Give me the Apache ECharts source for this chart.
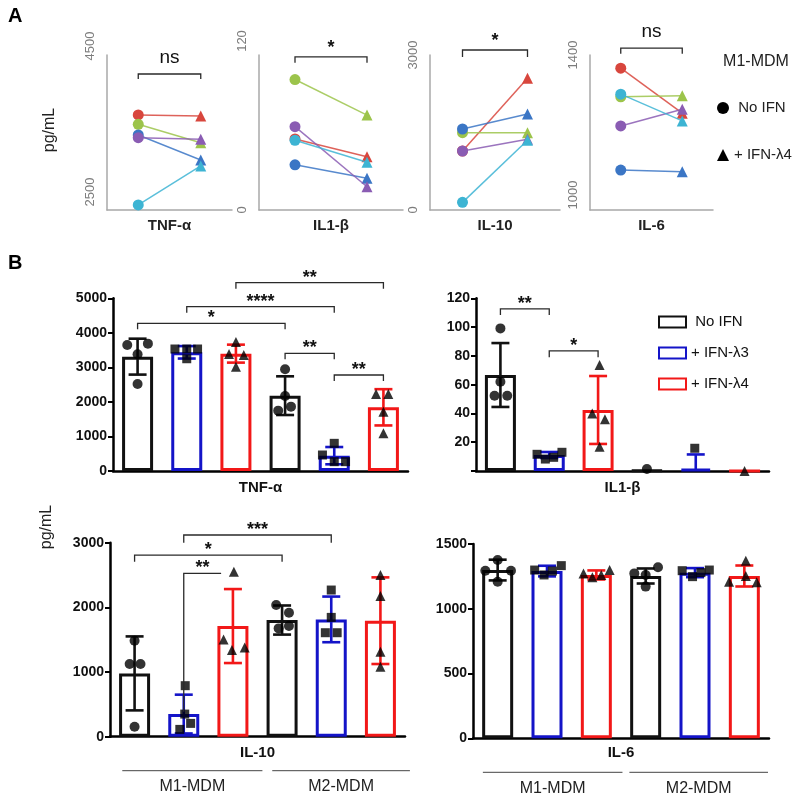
<!DOCTYPE html>
<html><head><meta charset="utf-8">
<script src="https://cdn.jsdelivr.net/npm/echarts@6/dist/echarts.min.js"></script>
<style>html,body{margin:0;padding:0;background:#fff}#c{width:800px;height:803px}</style>
</head><body><div id="c"></div>
<script>
// ---------- Panel A data (donor order: red, green, blue, purple, cyan) ----------
const donorColors = ['#d8463d', '#9cc44b', '#3b76c5', '#8a5cb3', '#3db4d3'];
const aCytokines = ['TNF-α', 'IL1-β', 'IL-10', 'IL-6'];
const aTNF_noIFN = [3726, 3606, 3468, 3433, 2565];
const aTNF_L4 = [3713, 3368, 3145, 3412, 3068];
const aIL1b_noIFN = [55, 101, 35, 64.5, 54];
const aIL1b_L4 = [41.3, 73.5, 24.5, 18, 36.9];
const aIL10_noIFN = [1142, 1497, 1568, 1142, 148];
const aIL10_L4 = [2548, 1497, 1858, 1368, 1350];
const aIL6_noIFN = [1366, 1292, 1103, 1217, 1299];
const aIL6_L4 = [1250, 1295, 1099, 1260, 1230];
const aYMin = [2500, 0, 0, 1000];
const aYMax = [4500, 120, 3000, 1400];
const aYInterval = [500, 60, 1500, 200];
const aSig = ['ns', '*', '*', 'ns'];
const aBracketTop = [4255, 118.5, 3097, 1418];
const aBracketLeg = [4190, 114, 2961, 1403];

// ---------- Panel B data ----------
const bCytokines = ['TNF-α', 'IL1-β', 'IL-10', 'IL-6'];
const bCats = ['M1 No IFN', 'M1 + IFN-λ3', 'M1 + IFN-λ4', 'M2 No IFN', 'M2 + IFN-λ3', 'M2 + IFN-λ4'];
const bTreat = [0, 1, 2, 0, 1, 2];
const treatNames = ['No IFN', '+ IFN-λ3', '+ IFN-λ4'];
const groupLabels = ['M1-MDM', 'M2-MDM'];

const tnfMean = [3311, 3436, 3398, 2181, 444, 1844];
const tnfSD = [520, 180, 260, 560, 250, 525];
const tnfPts = [[3649, 3687, 3378, 2519], [3532, 3532, 3532, 3250], [3736, 3388, 3359, 3021], [2944, 1747, 1863, 2170], [801, 463, 270, 270], [2230, 2230, 1718, 1091]];
const tnfJit = [[-0.21, 0.21, 0, 0], [-0.24, 0, 0.22, 0], [0, -0.14, 0.16, 0], [0, -0.14, 0.12, 0], [0, -0.24, 0, 0.23], [-0.15, 0.1, 0, 0]];

const il1Mean = [66.7, 11.1, 42.4, 0.4, 1.5, 0];
const il1SD = [22.2, 2.1, 23.6, 0, 10, 0];
const il1Pts = [[99.1, 62, 52.3, 52.3], [11.6, 8.3, 9.5, 13], [73.7, 40, 35.9, 16.9], [1.4], [15.8], [0]];
const il1Jit = [[0, 0, -0.12, 0.14], [-0.25, -0.08, 0.09, 0.26], [0.03, -0.12, 0.14, 0.03], [0], [-0.02], [0]];

const il10Mean = [979, 350, 1711, 1804, 1814, 1794];
const il10SD = [572, 300, 572, 225, 353, 670];
const il10Pts = [[1485, 1124, 1124, 155], [789, 350, 206, 113], [2552, 1505, 1340, 1381], [2036, 1918, 1711, 1675], [2268, 1845, 1608, 1608], [2500, 2175, 1314, 1082]];
const il10Jit = [[0, -0.1, 0.12, 0], [0.03, 0.02, 0.14, -0.08], [0.02, -0.19, -0.02, 0.24], [-0.12, 0.14, 0.14, -0.07], [0, 0, 0.12, -0.12], [0, 0, 0, 0]];

const il6Mean = [1299, 1291, 1261, 1253, 1279, 1253];
const il6SD = [80, 41, 35, 58, 35, 81];
const il6Pts = [[1376, 1294, 1294, 1209], [1299, 1261, 1333, 1291], [1273, 1243, 1299, 1261], [1273, 1171, 1320, 1261], [1294, 1248, 1299, 1279], [1371, 1209, 1204, 1253]];
const il6Jit = [[0, -0.25, 0.27, 0], [-0.25, -0.06, 0.29, 0.11], [-0.26, -0.08, 0.27, 0.1], [-0.23, 0, 0.25, 0], [-0.26, -0.05, 0.29, 0.12], [0.03, -0.31, 0.25, 0.03]];

const bYMax = [5000, 120, 3000, 1500];
const bYInterval = [1000, 20, 1000, 500];

// brackets: [x1, x2, yTop, yLegLeft, yLegRight]
const tnfBrackets = [[0, 3, 4276, 4102, 4102], [1, 4, 4759, 4585, 4585], [2, 5, 5454, 5280, 5280], [3, 4, 3407, 3234, 3234], [4, 5, 2780, 2606, 2606]];
const tnfBracketLabels = ['*', '****', '**', '**', '**'];
const il1Brackets = [[0, 1, 112.6, 108.4, 108.4], [1, 2, 83.4, 79, 79]];
const il1BracketLabels = ['**', '*'];
const il10Brackets = [[1, 4, 3119, 3000, 3000], [0, 3, 2809, 2706, 2706], [1, 1.76, 2526, 387, 2526]];
const il10BracketLabels = ['***', '*', '**'];
const il10Groups = [[-0.25, 2.6], [2.8, 5.6]];
const il6Groups = [[-0.3, 2.53], [2.67, 5.48]];

// ---------- styling ----------
const FONT = '"Liberation Sans", Arial, Helvetica, sans-serif';
const treatColors = ['#111111', '#1414c8', '#f21818'];
const treatSymbols = ['circle', 'rect', 'triangle'];
const treatSymbolSize = [10, 9, 10];
// upward shift (px) of the rotated min / max tick labels in panel A
const aLabelShift = [[18, 9], [0, 14], [0, 0], [15, 0]];

const aData = [[aTNF_noIFN, aTNF_L4], [aIL1b_noIFN, aIL1b_L4], [aIL10_noIFN, aIL10_L4], [aIL6_noIFN, aIL6_L4]];
const bMeans = [tnfMean, il1Mean, il10Mean, il6Mean];
const bSDs = [tnfSD, il1SD, il10SD, il6SD];
const bPts = [tnfPts, il1Pts, il10Pts, il6Pts];
const bJit = [tnfJit, il1Jit, il10Jit, il6Jit];
const bBrackets = [tnfBrackets, il1Brackets, il10Brackets, null];
const bBracketLabels = [tnfBracketLabels, il1BracketLabels, il10BracketLabels, null];
const bGroups = [null, null, il10Groups, il6Groups];

const grids = [
  {left: 107, top: 55, width: 125, height: 155},
  {left: 259, top: 55, width: 144, height: 155},
  {left: 430, top: 55, width: 130, height: 155},
  {left: 590, top: 55, width: 123, height: 155},
  {left: 113, top: 298.3, width: 295, height: 172.7},
  {left: 476, top: 298.3, width: 293, height: 172.7},
  {left: 110, top: 542.7, width: 295, height: 194},
  {left: 473, top: 544, width: 296, height: 194.3}
];
const bNameGap = [9, 9, 9, 7];

const xAxes = [], yAxes = [], series = [];

function bracketRender(labels, fontCfg, gap) {
  return function (params, api) {
    const i = params.dataIndex;
    const x1 = api.value(0), x2 = api.value(1), yt = api.value(2), yl = api.value(3), yr = api.value(4);
    const pL = api.coord([x1, yt]), pR = api.coord([x2, yt]);
    const lL = api.coord([x1, yl]), lR = api.coord([x2, yr]);
    const label = labels[i];
    const f = label === 'ns' ? fontCfg.ns : fontCfg.star;
    const g = label === 'ns' ? gap.ns : gap.star;
    return {
      type: 'group',
      children: [
        {type: 'polyline', shape: {points: [[lL[0], lL[1]], [pL[0], pL[1]], [pR[0], pR[1]], [lR[0], lR[1]]]},
         style: {stroke: '#2a2a2a', lineWidth: 1.3, fill: 'none'}},
        {type: 'text', style: {text: label, x: (pL[0] + pR[0]) / 2, y: pL[1] - g, align: 'center', verticalAlign: 'middle',
          font: f, fill: '#111'}}
      ]
    };
  };
}

// ---------- Panel A ----------
for (let k = 0; k < 4; k++) {
  xAxes.push({
    type: 'value', gridIndex: k, min: 0, max: 4,
    name: aCytokines[k], nameLocation: 'middle', nameGap: 8,
    nameTextStyle: {fontFamily: FONT, fontWeight: 'bold', fontSize: 15, color: '#222'},
    axisLine: {show: true, onZero: false, lineStyle: {color: '#a8a8a8', width: 1.5}},
    axisTick: {show: false}, axisLabel: {show: false}, splitLine: {show: false}
  });
  const mn = aYMin[k], mx = aYMax[k];
  const base = {color: '#7c7c7c', fontSize: 13, fontFamily: FONT};
  yAxes.push({
    type: 'value', gridIndex: k, min: mn, max: mx, interval: aYInterval[k],
    axisLine: {show: true, onZero: false, lineStyle: {color: '#a8a8a8', width: 1.5}},
    axisTick: {show: false}, splitLine: {show: false},
    axisLabel: {rotate: 90, margin: 10, color: '#7c7c7c', fontSize: 13, fontFamily: FONT,
      showMinLabel: true, showMaxLabel: true,
      rich: {
        lo: Object.assign({padding: [0, 0, 0, 2 * aLabelShift[k][0]]}, base),
        hi: Object.assign({padding: [0, 0, 0, 2 * aLabelShift[k][1]]}, base)
      },
      formatter: v => v === mn ? '{lo|' + v + '}' : (v === mx ? '{hi|' + v + '}' : '')}
  });
  for (let d = 0; d < 5; d++) {
    series.push({
      type: 'line', xAxisIndex: k, yAxisIndex: k, silent: true, z: 3 + d * 0.1,
      symbolSize: 11,
      data: [{value: [1, aData[k][0][d]], symbol: 'circle'}, {value: [3, aData[k][1][d]], symbol: 'triangle'}],
      itemStyle: {color: donorColors[d]},
      lineStyle: {color: donorColors[d], width: 1.5, opacity: 0.85}
    });
  }
  series.push({
    type: 'custom', xAxisIndex: k, yAxisIndex: k, clip: false, silent: true,
    data: [[1, 3, aBracketTop[k], aBracketLeg[k], aBracketLeg[k]]],
    renderItem: bracketRender([aSig[k]], {ns: '19px ' + FONT, star: 'bold 18px ' + FONT}, {ns: 16, star: 9})
  });
}

// ---------- Panel B ----------
function errRender() {
  return function (params, api) {
    const i = params.dataIndex;
    const x = api.value(0), m = api.value(1), sd = api.value(2);
    if (!sd) return {type: 'group', children: []};
    const c = treatColors[bTreat[i]];
    const hi = api.coord([x, m + sd]);
    const loV = m - sd;
    const lo = api.coord([x, Math.max(loV, 0)]);
    const ch = [
      {type: 'line', shape: {x1: hi[0], y1: hi[1], x2: lo[0], y2: lo[1]}, style: {stroke: c, lineWidth: 2.6}},
      {type: 'line', shape: {x1: hi[0] - 9, y1: hi[1], x2: hi[0] + 9, y2: hi[1]}, style: {stroke: c, lineWidth: 2.6}}
    ];
    if (loV >= 0) ch.push({type: 'line', shape: {x1: lo[0] - 9, y1: lo[1], x2: lo[0] + 9, y2: lo[1]}, style: {stroke: c, lineWidth: 2.6}});
    return {type: 'group', children: ch};
  };
}
function groupRender(labels) {
  return function (params, api) {
    const i = params.dataIndex;
    const p1 = api.coord([api.value(0), 0]), p2 = api.coord([api.value(1), 0]);
    return {type: 'group', children: [
      {type: 'line', shape: {x1: p1[0], y1: p1[1] + 34, x2: p2[0], y2: p1[1] + 34}, style: {stroke: '#444', lineWidth: 1}},
      {type: 'text', style: {text: labels[i], x: (p1[0] + p2[0]) / 2, y: p1[1] + 50, align: 'center', verticalAlign: 'middle',
        font: '16px ' + FONT, fill: '#222'}}
    ]};
  };
}

for (let k = 0; k < 4; k++) {
  const g = 4 + k;
  const catIdx = xAxes.length;
  xAxes.push({
    type: 'category', gridIndex: g, data: bCats,
    name: bCytokines[k], nameLocation: 'middle', nameGap: bNameGap[k],
    nameTextStyle: {fontFamily: FONT, fontWeight: 'bold', fontSize: 15, color: '#111'},
    axisLine: {show: true, onZero: false, lineStyle: {color: '#000', width: 2.5}},
    axisTick: {show: false}, axisLabel: {show: false}, splitLine: {show: false}
  });
  const valIdx = xAxes.length;
  xAxes.push({type: 'value', gridIndex: g, min: -0.5, max: 5.5, show: false, splitLine: {show: false},
    axisLine: {onZero: false}});
  const yIdx = yAxes.length;
  yAxes.push({
    type: 'value', gridIndex: g, min: 0, max: bYMax[k], interval: bYInterval[k],
    axisLine: {show: true, onZero: false, lineStyle: {color: '#000', width: 2.5}},
    axisTick: {show: true, length: 5, lineStyle: {color: '#000', width: 2}},
    splitLine: {show: false},
    axisLabel: {fontFamily: FONT, fontWeight: 'bold', fontSize: 14, color: '#111', margin: 6,
      formatter: v => (k === 1 && v === 0) ? '' : String(v)}
  });
  for (let t = 0; t < 3; t++) {
    series.push({
      type: 'bar', name: treatNames[t], xAxisIndex: catIdx, yAxisIndex: yIdx,
      data: bMeans[k].map((m, i) => bTreat[i] === t ? m : '-'),
      barWidth: 31, barGap: '-100%', z: 2, silent: true,
      itemStyle: {color: '#ffffff', borderColor: treatColors[t], borderWidth: 3}
    });
  }
  series.push({
    type: 'custom', xAxisIndex: valIdx, yAxisIndex: yIdx, z: 3, silent: true, clip: false,
    data: bMeans[k].map((m, i) => [i, m, bSDs[k][i]]),
    renderItem: errRender()
  });
  for (let t = 0; t < 3; t++) {
    const pts = [];
    bPts[k].forEach((arr, i) => {
      if (bTreat[i] !== t) return;
      arr.forEach((v, j) => pts.push([i + bJit[k][i][j], v]));
    });
    series.push({
      type: 'scatter', xAxisIndex: valIdx, yAxisIndex: yIdx, z: 4, silent: true,
      symbol: treatSymbols[t], symbolSize: treatSymbolSize[t],
      itemStyle: {color: '#000'}, data: pts
    });
  }
  if (bBrackets[k]) {
    series.push({
      type: 'custom', xAxisIndex: valIdx, yAxisIndex: yIdx, clip: false, silent: true, z: 5,
      data: bBrackets[k],
      renderItem: bracketRender(bBracketLabels[k], {ns: '18px ' + FONT, star: 'bold 18px ' + FONT}, {ns: 14, star: 5})
    });
  }
  if (bGroups[k]) {
    series.push({
      type: 'custom', xAxisIndex: valIdx, yAxisIndex: yIdx, clip: false, silent: true,
      data: bGroups[k], renderItem: groupRender(groupLabels)
    });
  }
}

const legendFormatter = n => n === 'No IFN' ? ' No IFN' : n;
const option = {
  animation: false,
  backgroundColor: '#fff',
  grid: grids.map(r => Object.assign({containLabel: false}, r)),
  xAxis: xAxes,
  yAxis: yAxes,
  legend: [
    {
      orient: 'vertical', left: 717, top: 100, padding: 0, itemWidth: 12, itemHeight: 12, itemGap: 31,
      selectedMode: false, formatter: legendFormatter,
      textStyle: {fontFamily: FONT, fontSize: 15, color: '#222', lineHeight: 16},
      data: [
        {name: 'No IFN', icon: 'circle', itemStyle: {color: '#000', borderWidth: 0}},
        {name: '+ IFN-λ4', icon: 'triangle', itemStyle: {color: '#000', borderWidth: 0}}
      ]
    },
    {
      orient: 'vertical', left: 658, top: 314, padding: 0, itemWidth: 27, itemHeight: 11, itemGap: 15,
      selectedMode: false, formatter: legendFormatter,
      textStyle: {fontFamily: FONT, fontSize: 15, color: '#111', lineHeight: 16},
      data: treatNames.map((n, t) => ({name: n, icon: 'rect',
        itemStyle: {color: '#fff', borderColor: treatColors[t], borderWidth: 2}}))
    }
  ],
  graphic: [
    {type: 'text', left: 8, top: 6, style: {text: 'A', font: 'bold 20px ' + FONT, fill: '#000'}},
    {type: 'text', left: 8, top: 253, style: {text: 'B', font: 'bold 20px ' + FONT, fill: '#000'}},
    {type: 'text', x: 756, y: 62, style: {text: 'M1-MDM', font: '16px ' + FONT, fill: '#222', align: 'center', verticalAlign: 'middle'}},
    {type: 'text', x: 50, y: 130, rotation: Math.PI / 2, style: {text: 'pg/mL', font: '16px ' + FONT, fill: '#222', align: 'center', verticalAlign: 'middle'}},
    {type: 'text', x: 47, y: 527, rotation: Math.PI / 2, style: {text: 'pg/mL', font: '16px ' + FONT, fill: '#222', align: 'center', verticalAlign: 'middle'}}
  ],
  series: series
};
const chart = echarts.init(document.getElementById('c'));
chart.setOption(option);
</script>
</body></html>
